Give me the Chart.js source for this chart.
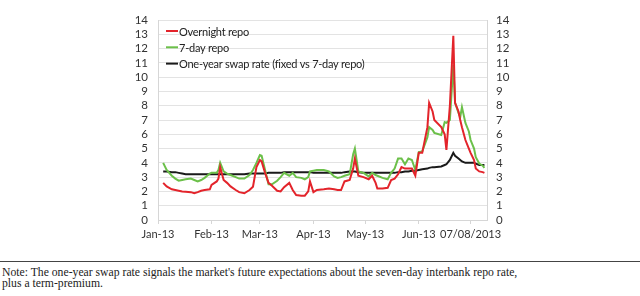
<!DOCTYPE html>
<html>
<head>
<meta charset="utf-8">
<script src="https://cdn.jsdelivr.net/npm/chart.js@4.4.0/dist/chart.umd.min.js"></script>
<style>
  html, body { margin: 0; padding: 0; background: #fff; }
  body { width: 640px; height: 296px; position: relative; overflow: hidden; }
  #wrap { position: absolute; left: 0; top: 0; width: 640px; height: 250px; }
  #note {
    position: absolute; left: 0; top: 261px; width: 638px;
    border-top: 1px solid #444;
    padding: 5px 0 0 2px;
    font-family: "Liberation Serif", "DejaVu Serif", serif;
    font-size: 11.7px; line-height: 11px; color: #222;
  }
</style>
</head>
<body>
<div id="wrap"><canvas id="repoChart"></canvas></div>
<div id="note">Note: The one-year swap rate signals the market's future expectations about the seven-day interbank repo rate,<br>plus a term-premium.</div>
<script>
// datumi opazovanj (2013)
const dates = [
  '2013-01-04','2013-01-06','2013-01-09','2013-01-11','2013-01-13','2013-01-15','2013-01-17','2013-01-20',
  '2013-01-22','2013-01-24','2013-01-26','2013-01-28','2013-01-31','2013-02-01','2013-02-04','2013-02-05',
  '2013-02-06','2013-02-08','2013-02-10','2013-02-12','2013-02-15','2013-02-17','2013-02-20','2013-02-23',
  '2013-02-25','2013-02-27','2013-03-01','2013-03-02','2013-03-04','2013-03-06','2013-03-08','2013-03-11',
  '2013-03-13','2013-03-15','2013-03-18','2013-03-20','2013-03-22','2013-03-25','2013-03-27','2013-03-29',
  '2013-03-30','2013-04-01','2013-04-03','2013-04-07','2013-04-10','2013-04-13','2013-04-15','2013-04-17',
  '2013-04-19','2013-04-22','2013-04-24','2013-04-25','2013-04-27','2013-04-30','2013-05-03','2013-05-05',
  '2013-05-07','2013-05-08','2013-05-11','2013-05-14','2013-05-16','2013-05-18','2013-05-20','2013-05-22',
  '2013-05-24','2013-05-26','2013-05-28','2013-05-30','2013-06-01','2013-06-03','2013-06-06','2013-06-07',
  '2013-06-09','2013-06-10','2013-06-14','2013-06-16','2013-06-17','2013-06-19','2013-06-21','2013-06-22',
  '2013-06-24','2013-06-25','2013-06-26','2013-06-28','2013-06-30','2013-07-01','2013-07-03','2013-07-04',
  '2013-07-06','2013-07-08','2013-07-09'
];

const overnight = [
  2.6, 2.35, 2.15, 2.1, 2.05, 2.0, 1.98, 1.95,
  1.87, 1.95, 2.05, 2.1, 2.15, 2.45, 2.7, 2.9,
  3.7, 2.8, 2.6, 2.35, 2.1, 1.95, 1.87, 2.1,
  2.33, 3.7, 4.2, 4.1, 3.3, 2.6, 2.4, 2.05,
  2.0, 2.3, 2.6, 2.1, 1.75, 1.7, 1.7, 2.0,
  2.7, 1.95, 2.1, 2.15, 2.2, 2.15, 2.1, 2.1,
  2.7, 2.8, 3.6, 4.3, 3.1, 3.0, 2.85, 3.1,
  2.6, 2.2, 2.2, 2.25, 2.8, 2.9, 3.2, 3.7,
  3.6, 3.6, 3.6, 3.1, 4.7, 4.7, 6.5, 8.2,
  7.6, 7.0, 6.5, 6.0, 4.9, 8.0, 12.9, 8.2,
  7.6, 7.0, 6.5, 5.6, 5.0, 4.7, 4.2, 3.6,
  3.4, 3.35, 3.3
];

const sevenDay = [
  4.0, 3.5, 3.1, 2.9, 2.75, 2.8, 2.85, 2.9,
  2.8, 2.7, 2.8, 2.95, 3.25, 3.3, 3.3, 3.5,
  4.0, 3.4, 3.25, 3.15, 3.0, 2.9, 2.9, 3.15,
  3.5, 4.0, 4.55, 4.5, 3.5, 2.5, 2.5, 2.75,
  3.0, 3.3, 3.1, 3.3, 3.0, 2.95, 2.85, 3.0,
  3.4, 3.45, 3.5, 3.5, 3.4, 3.05, 2.95, 3.0,
  3.1, 3.2, 4.6, 5.0, 3.4, 3.3, 3.05, 3.3,
  3.15, 3.1, 2.95, 2.85, 3.3, 3.6, 4.3, 4.3,
  3.9, 4.3, 4.2, 3.5, 4.75, 4.8, 5.8, 6.5,
  6.3, 6.1, 5.95, 6.85, 6.8, 7.0, 10.85, 8.2,
  7.5, 7.2, 7.9, 6.8, 6.2, 5.6, 5.0, 4.4,
  3.95, 3.8, 3.65
];

const swapRate = [
  3.4, 3.4, 3.35, 3.35, 3.3, 3.25, 3.2, 3.2,
  3.2, 3.2, 3.2, 3.2, 3.2, 3.2, 3.2, 3.2,
  3.2, 3.2, 3.2, 3.2, 3.2, 3.2, 3.2, 3.25,
  3.25, 3.25, 3.25, 3.25, 3.25, 3.3, 3.3, 3.3,
  3.3, 3.35, 3.35, 3.35, 3.35, 3.35, 3.35, 3.35,
  3.35, 3.3, 3.3, 3.3, 3.3, 3.3, 3.3, 3.3,
  3.35, 3.4, 3.4, 3.4, 3.35, 3.3, 3.3, 3.3,
  3.3, 3.3, 3.3, 3.3, 3.3, 3.3, 3.35, 3.35,
  3.4, 3.4, 3.45, 3.45, 3.5, 3.55, 3.6, 3.65,
  3.7, 3.7, 3.75, 3.85, 3.9, 4.2, 4.7, 4.5,
  4.3, 4.2, 4.1, 4.0, 4.0, 4.0, 4.0, 3.95,
  3.85, 3.85, 3.85
];

const tickDates = ['2013-01-01','2013-02-01','2013-03-01','2013-04-01','2013-05-01','2013-06-01','2013-07-01'];
const tickLabels = ['Jan-13','Feb-13','Mar-13','Apr-13','May-13','Jun-13','07/08/2013'];
const yTicks = [0,1,2,3,4,5,6,7,8,9,10,11,12,13,14];

const seriesNames = ['Overnight repo', '7-day repo', 'One-year swap rate (fixed vs 7-day repo)'];

// dan od 1. januarja
const start = Date.parse('2013-01-01');
const toDay = s => (Date.parse(s) - start) / 864e5;
const days = dates.map(toDay);
const tickDays = tickDates.map(toDay);
const pts = arr => arr.map((v, i) => ({ x: days[i], y: v }));

const FONT = 'Lato, sans-serif';
Chart.defaults.font.family = FONT;
Chart.defaults.font.size = 11.5;
Chart.defaults.color = '#333';

// legenda znotraj risalne povrsine
const innerLegend = {
    id: 'innerLegend',
    afterDraw(chart) {
        const ctx = chart.ctx;
        const a = chart.chartArea;
        ctx.save();
        ctx.font = '11px ' + FONT;
        ctx.letterSpacing = '-0.25px';
        ctx.textBaseline = 'middle';
        chart.data.datasets.forEach((ds, i) => {
            const y = a.top + 11 + i * 16.3;
            ctx.strokeStyle = ds.borderColor;
            ctx.lineWidth = 2;
            ctx.beginPath();
            ctx.moveTo(a.left + 8, y);
            ctx.lineTo(a.left + 20, y);
            ctx.stroke();
            ctx.fillStyle = '#222';
            ctx.fillText(ds.label, a.left + 21, y + 1);
        });
        ctx.restore();
    }
};

const gridColor = '#e3e3e3';
const borderColor = '#d6d6d6';

new Chart(document.getElementById('repoChart'), {
    type: 'line',
    data: {
        datasets: [
            { label: seriesNames[0], data: pts(overnight), borderColor: '#e3242b', borderWidth: 2, pointRadius: 0, tension: 0 },
            { label: seriesNames[1], data: pts(sevenDay), borderColor: '#6cc04a', borderWidth: 2, pointRadius: 0, tension: 0 },
            { label: seriesNames[2], data: pts(swapRate), borderColor: '#1a1a1a', borderWidth: 2, pointRadius: 0, tension: 0 }
        ]
    },
    options: {
        responsive: true,
        maintainAspectRatio: false,
        animation: false,
        layout: { padding: { top: 20, left: 0, right: 0, bottom: 0 } },
        plugins: { legend: { display: false }, tooltip: { enabled: false } },
        scales: {
            x: {
                type: 'linear',
                min: 0,
                max: 190.5,
                afterBuildTicks: s => { s.ticks = tickDays.map(v => ({ value: v })); },
                afterFit: s => { s.height = 30; },
                grid: { drawOnChartArea: false, color: borderColor, tickLength: 4 },
                border: { color: borderColor },
                ticks: {
                    autoSkip: false, maxRotation: 0, padding: 4,
                    font: { size: 11 },
                    callback: (v, i) => tickLabels[i]
                }
            },
            y: {
                position: 'left',
                min: 0, max: 14,
                afterBuildTicks: s => { s.ticks = yTicks.map(v => ({ value: v })); },
                afterFit: s => { s.width = 158; },
                grid: { color: gridColor, drawTicks: false },
                border: { color: borderColor },
                ticks: { autoSkip: false, padding: 10 }
            },
            y2: {
                position: 'right',
                min: 0, max: 14,
                afterBuildTicks: s => { s.ticks = yTicks.map(v => ({ value: v })); },
                afterFit: s => { s.width = 153; },
                grid: { drawOnChartArea: false, drawTicks: false },
                border: { color: borderColor },
                ticks: { autoSkip: false, padding: 9 }
            }
        }
    },
    plugins: [innerLegend]
});
</script>
</body>
</html>
